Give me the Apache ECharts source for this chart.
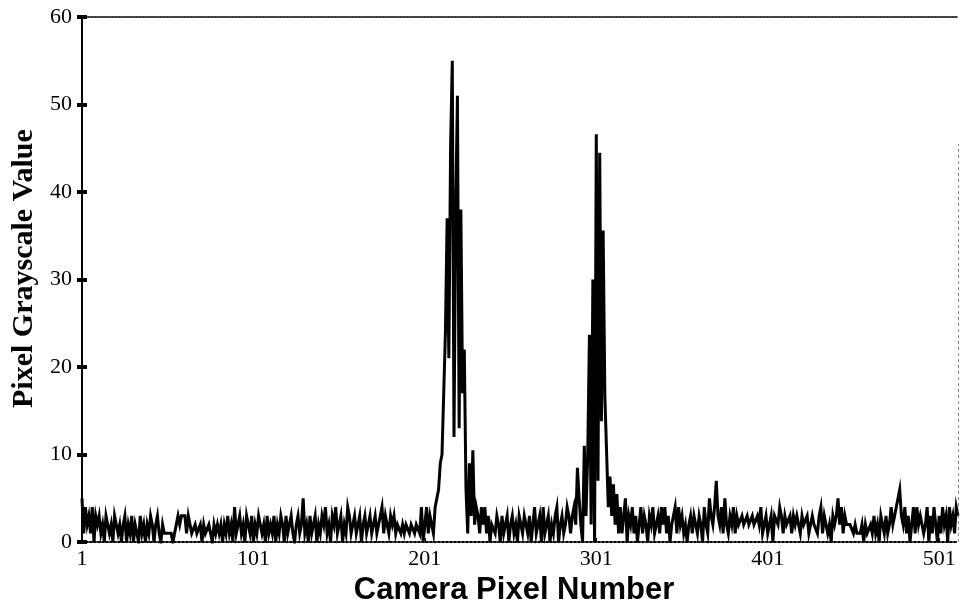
<!DOCTYPE html>
<html>
<head>
<meta charset="utf-8">
<script src="https://cdn.jsdelivr.net/npm/echarts@6/dist/echarts.min.js"></script>
<style>
html,body{margin:0;padding:0;background:#fff;}
#chart{width:961px;height:611px;}
</style>
</head>
<body>
<div id="chart"></div>
<script>
// Camera pixel values, pixel numbers start at 1
const seg001_204 = [
  5,1,4,2,3,1,4,0,3,2,
  3,1,2,0,3,2,1,2,0,3,
  3,1,2,0,2,3,0,2,1,3,
  0,2,2,0,3,1,2,0,2,1,
  3,2,0,2,3,1,0,2,1,1,
  1,1,1,0,1,1,3,2,3,3,
  3,1,3,2,1,1,2,1,1,2,
  0,2,1,1,2,1,0,2,1,2,
  1,2,0,2,1,3,1,2,0,4,
  1,2,3,1,2,0,3,2,1,3,
  0,2,1,3,2,1,2,0,3,1,
  2,1,3,0,2,1,3,2,0,3,
  1,2,3,1,0,2,3,1,2,5,
  1,2,0,3,1,2,3,0,2,1,
  3,2,4,1,2,0,3,2,4,1,
  2,3,0,2,1,4,3,1,2,3,
  1,2,3,0,2,3,1,2,3,1,
  2,3,1,2,2,4,1,3,2,1,
  3,2,3,1,2,2,1,2,1,2,
  2,1,2,2,1,2,2,1,4,0,
  0,4,1,3
];
const peak1_205_232 = [3,1,4,5,6,9,10,17,24,37,21,45,55,12,38,51,13,38,17,22,6,1,9,3,10.5,2,4,3];
const seg233_289 = [
  1,4,2,4,1,3,0,2,
  2,1,3,2,0,3,1,2,3,0,
  2,3,1,2,0,3,2,1,3,2,
  1,3,0,2,4,1,2,3,0,4,
  1,2,3,0,2,1,3,4,0,2,
  3,1,2,4,3,1,3,4,2
];
const peak2_290_314 = [8.5,5,2,0,11,3,10,23.7,2,30,0,46.6,7,44.5,13.8,35.6,16.7,16.7,4,7.5,3,6.6,2,5.5,1];
const seg315_512 = [
  4,1,3,5,0,3,
  2,4,1,3,0,2,4,1,3,2,
  0,3,2,4,1,2,3,1,4,2,
  4,1,3,0,2,3,4,1,4,2,
  3,1,2,0,2,3,1,3,2,1,
  3,2,0,4,2,1,5,3,2,4,
  7,3,2,4,1,5,2,1,3,2,
  4,1,3,2,2,3,2,2,3,2,
  2,3,2,2,3,2,4,1,2,3,
  1,2,3,0,3,3,2,4,3,1,
  3,2,2,3,1,3,2,3,2,1,
  3,2,2,3,1,2,3,2,2,1,
  3,4,1,3,2,1,2,0,3,2,
  3,5,2,4,1,3,2,2,2,2,
  1,2,1,1,1,2,0,2,1,1,
  2,1,3,1,2,0,3,2,1,3,
  1,2,4,2,3,4,5,6,3,2,
  4,1,3,0,2,4,1,4,2,3,
  3,1,2,4,0,3,1,4,2,0,
  3,1,4,2,3,0,4,2,3,1,4,3
];
const xTickLabels = [1,101,201,301,401,501];
const yTicks = [0,10,20,30,40,50,60];

const values = [].concat(seg001_204, peak1_205_232, seg233_289, peak2_290_314, seg315_512);
const seriesData = values.map((v,i)=>[i+1, v]);
const xMax = values.length;

const chart = echarts.init(document.getElementById('chart'));
const serif = '"Liberation Serif", "Times New Roman", serif';
const sans = '"Liberation Sans", Arial, sans-serif';

chart.setOption({
  animation:false,
  backgroundColor:'#fff',
  grid:{left:82, right:3, top:17, bottom:66, containLabel:false},
  xAxis:[{
    type:'value', min:1, max:xMax, position:'bottom',
    name:'Camera Pixel Number', nameLocation:'middle', nameGap:30,
    nameTextStyle:{fontFamily:sans, fontWeight:'bold', fontSize:31, color:'#000', padding:[0,12,0,0]},
    axisLine:{show:true, onZero:false, lineStyle:{color:'#000', width:2, type:[2,2]}},
    axisTick:{show:true, inside:true, length:4, lineStyle:{color:'#000', width:1}, customValues:xTickLabels},
    axisLabel:{customValues:xTickLabels, fontFamily:serif, fontSize:22, color:'#000', margin:6},
    splitLine:{show:false}
  },{
    type:'value', min:1, max:xMax, position:'top',
    axisLine:{show:true, onZero:false, lineStyle:{color:'#000', width:1.5, type:[2,1]}},
    axisTick:{show:false}, axisLabel:{show:false}, splitLine:{show:false}
  }],
  yAxis:[{
    type:'value', min:0, max:60, interval:10, position:'left',
    name:'Pixel Grayscale Value', nameLocation:'middle', nameGap:42,
    nameTextStyle:{fontFamily:serif, fontWeight:'bold', fontSize:30, color:'#000', padding:[0,0,0,22]},
    axisLine:{show:true, onZero:false, lineStyle:{color:'#000', width:2}},
    axisTick:{show:true, length:5, lineStyle:{color:'#000', width:4}},
    axisLabel:{fontFamily:serif, fontSize:22, color:'#000', margin:10},
    splitLine:{show:false}
  },{
    type:'value', min:0, max:60, interval:10, position:'left', offset:0,
    axisLine:{show:false, onZero:false},
    axisTick:{show:true, inside:true, length:5, lineStyle:{color:'#000', width:4}},
    axisLabel:{show:false}, splitLine:{show:false}
  }],
  series:[{
    type:'line', xAxisIndex:0, yAxisIndex:0,
    data:seriesData, showSymbol:false, symbol:'none',
    lineStyle:{color:'#000', width:3, join:'miter'},
    markLine:{
      silent:true, symbol:'none', label:{show:false},
      lineStyle:{color:'#888', width:1, type:[3,3]},
      data:[[{coord:[xMax,0]},{coord:[xMax,45.5]}]]
    }
  }]
});
</script>
</body>
</html>
